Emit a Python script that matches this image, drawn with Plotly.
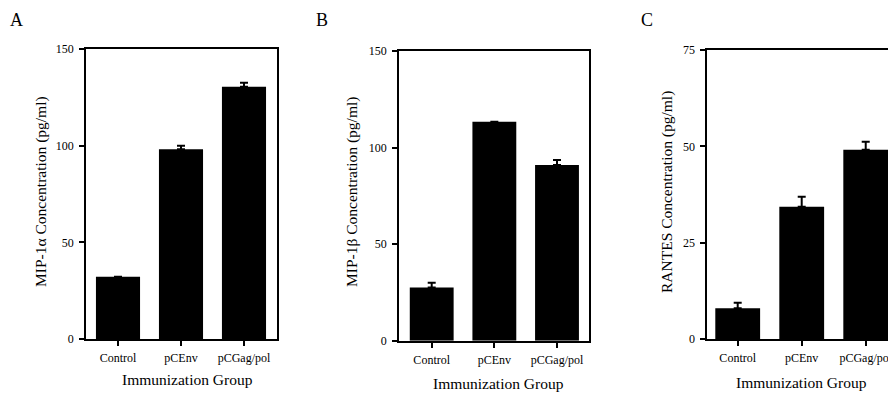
import plotly.graph_objects as go

# The page adds an 8px body margin, so the figure is drawn 8px in from the
# window's top-left corner; geometry below is given in window pixels.
OFF = 8
W, H = 896 - OFF, 399 - OFF

categories = ["Control", "pCEnv", "pCGag/pol"]

mip1a = [32.2, 98.1, 130.5]
mip1a_err = [0, 1.9, 2.1]

mip1b = [27.6, 113.4, 91.0]
mip1b_err = [2.4, 0, 2.6]

rantes = [8.0, 34.3, 49.1]
rantes_err = [1.4, 2.6, 2.1]

ticks_150 = [0, 50, 100, 150]
ticks_75 = [0, 25, 50, 75]

FONT = "Liberation Serif, Times New Roman, serif"


def px(x):
    return (x - OFF) / W


def py(y):
    return 1 - (y - OFF) / H


fig = go.Figure()

panels = [
    (mip1a, mip1a_err, "x", "y"),
    (mip1b, mip1b_err, "x2", "y2"),
    (rantes, rantes_err, "x3", "y3"),
]
for vals, errs, xa, ya in panels:
    # bars without a visible error bar in the reference get no cap at all
    shown = [e if e > 0 else None for e in errs]
    fig.add_trace(go.Bar(
        x=categories, y=vals, xaxis=xa, yaxis=ya, width=0.7,
        marker=dict(color="black", line=dict(width=0)),
        error_y=dict(type="data", array=shown, arrayminus=[0] * len(errs),
                     symmetric=False, color="black", thickness=2, width=4),
        showlegend=False, hoverinfo="skip",
    ))

axis_common = dict(
    showgrid=False, zeroline=False, showline=True, linecolor="black",
    linewidth=1.8, ticks="outside", ticklen=5, tickwidth=1.5,
    tickcolor="black", tickfont=dict(family=FONT, size=12, color="black"),
    automargin=False,
)

# panel geometry in window pixels: (left, right, top, bottom, xmin, xmax)
geo = [
    (86, 277, 49, 339, -0.508, 2.524),
    (399, 588.7, 51, 340.7, -0.522, 2.506),
    (707.3, 896, 50, 339, -0.475, 2.473),
]
yranges = [[0, 150], [0, 150], [0, 75]]
ytickv = [ticks_150, ticks_150, ticks_75]

layout = dict(
    width=W, height=H,
    margin=dict(l=0, r=0, t=0, b=0, pad=0, autoexpand=False),
    paper_bgcolor="white", plot_bgcolor="white",
    font=dict(family=FONT, color="black"),
    bargap=0.3,
)
for i, (l, r, t, b, xmin, xmax) in enumerate(geo):
    sfx = "" if i == 0 else str(i + 1)
    layout["xaxis" + sfx] = dict(
        axis_common, domain=[px(l), min(px(r), 1.0)], range=[xmin, xmax],
        type="category", categoryorder="array", categoryarray=categories,
        anchor="y" + sfx, mirror=True, ticklabelstandoff=2,
    )
    layout["yaxis" + sfx] = dict(
        axis_common, domain=[py(b), py(t)], range=yranges[i],
        tickmode="array", tickvals=ytickv[i], anchor="x" + sfx,
        mirror=(i != 2), ticklabelstandoff=3,
    )

annotations = []
ytitles = [
    ("MIP-1α Concentration (pg/ml)", 41, 192),
    ("MIP-1β Concentration (pg/ml)", 352, 192),
    ("RANTES Concentration (pg/ml)", 667, 192),
]
for text, x, y in ytitles:
    annotations.append(dict(text=text, x=px(x), y=py(y), xref="paper", yref="paper",
                            showarrow=False, textangle=-90, xanchor="center", yanchor="middle",
                            font=dict(family=FONT, size=15.5, color="black")))
xtitles = [(187, 379), (499, 383), (801, 382)]
for x, y in xtitles:
    annotations.append(dict(text="Immunization Group", x=px(x), y=py(y), xref="paper", yref="paper",
                            showarrow=False, xanchor="center", yanchor="middle",
                            font=dict(family=FONT, size=15.5, color="black")))
letters = [("A", 16.5), ("B", 322), ("C", 647)]
for t, x in letters:
    annotations.append(dict(text=t, x=px(x), y=1, xref="paper", yref="paper",
                            showarrow=False, xanchor="center", yanchor="top",
                            font=dict(family=FONT, size=18, color="black")))
layout["annotations"] = annotations

fig.update_layout(**layout)
fig.write_html("out.html")
